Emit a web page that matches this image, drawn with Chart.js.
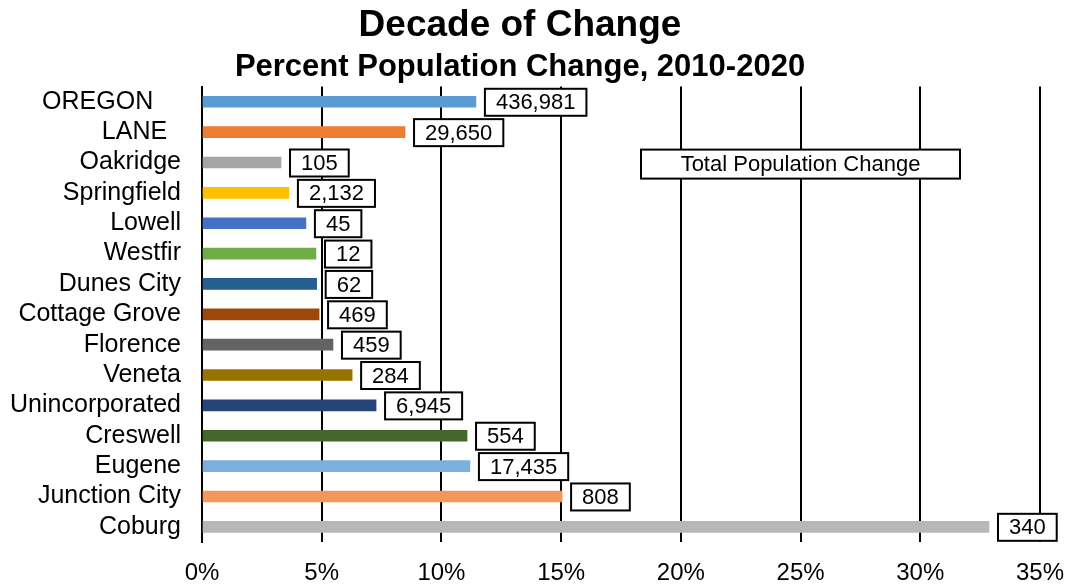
<!DOCTYPE html>
<html>
<head>
<meta charset="utf-8">
<title>Decade of Change</title>
<script src="https://cdn.jsdelivr.net/npm/chart.js@4.4.1/dist/chart.umd.min.js"></script>
<style>
    html, body { margin: 0; padding: 0; background: #fff; }
    #wrap { width: 1066px; height: 588px; }
</style>
</head>
<body>
<div id="wrap"><canvas id="chart"></canvas></div>
<script>
// Chart data
const categories = ['OREGON    ', 'LANE  ', 'Oakridge', 'Springfield', 'Lowell', 'Westfir', 'Dunes City',
    'Cottage Grove', 'Florence', 'Veneta', 'Unincorporated', 'Creswell', 'Eugene', 'Junction City', 'Coburg'];
const pctChange = [11.44, 8.48, 3.30, 3.63, 4.34, 4.76, 4.79, 4.89, 5.47, 6.27, 7.27, 11.07, 11.19, 15.04, 32.87];
const popChange = ['436,981', '29,650', '105', '2,132', '45', '12', '62', '469', '459', '284', '6,945', '554', '17,435', '808', '340'];
const barColors = ['#5B9BD5', '#ED7D31', '#A5A5A5', '#FFC000', '#4472C4', '#70AD47', '#255E91',
    '#9E480E', '#636363', '#997300', '#264478', '#43682B', '#7CAFDD', '#F1975A', '#B7B7B7'];
const xTicks = [0, 5, 10, 15, 20, 25, 30, 35];
const legendText = 'Total Population Change';

const FONT = "'Liberation Sans', Arial, sans-serif";

// Boxed value labels at the end of each bar
const valueBoxes = {
    id: 'valueBoxes',
    afterDatasetsDraw(chart) {
        const ctx = chart.ctx;
        const meta = chart.getDatasetMeta(0);
        ctx.save();
        ctx.font = '22px ' + FONT;
        ctx.textBaseline = 'middle';
        ctx.textAlign = 'left';
        meta.data.forEach((bar, i) => {
            const text = popChange[i];
            const w = ctx.measureText(text).width + 22;
            const h = 27;
            const x = bar.x + 9;
            const y = bar.y - h / 2 + 0.5;
            ctx.fillStyle = '#fff';
            ctx.fillRect(x, y, w, h);
            ctx.lineWidth = 2;
            ctx.strokeStyle = '#000';
            ctx.strokeRect(x, y, w, h);
            ctx.fillStyle = '#000';
            ctx.fillText(text, x + 11, y + h / 2 + 1);
        });
        ctx.restore();
    }
};

// Legend-like caption box
const captionBox = {
    id: 'captionBox',
    afterDatasetsDraw(chart) {
        const ctx = chart.ctx;
        const area = chart.chartArea;
        const x = area.left + 439;
        const y = area.top + 63;
        const w = 319;
        const h = 29;
        ctx.save();
        ctx.fillStyle = '#fff';
        ctx.fillRect(x, y, w, h);
        ctx.lineWidth = 2;
        ctx.strokeStyle = '#000';
        ctx.strokeRect(x, y, w, h);
        ctx.font = '22px ' + FONT;
        ctx.fillStyle = '#000';
        ctx.textAlign = 'center';
        ctx.textBaseline = 'middle';
        ctx.fillText(legendText, x + w / 2, y + h / 2 + 1);
        ctx.restore();
    }
};

const ctx = document.getElementById('chart').getContext('2d');
new Chart(ctx, {
    type: 'bar',
    data: {
        labels: categories,
        datasets: [{
            label: 'Percent Population Change',
            data: pctChange,
            backgroundColor: barColors,
            barThickness: 11,
            borderWidth: 0
        }]
    },
    options: {
        indexAxis: 'y',
        responsive: true,
        maintainAspectRatio: false,
        animation: false,
        layout: {
            padding: { left: 0, right: 26, top: 0, bottom: 0 }
        },
        plugins: {
            legend: { display: false },
            tooltip: { enabled: false },
            title: {
                display: true,
                text: 'Decade of Change',
                color: '#000',
                font: { family: FONT, size: 37, weight: 'bold', lineHeight: 1.2 },
                padding: { top: 4, bottom: 0 }
            },
            subtitle: {
                display: true,
                text: 'Percent Population Change, 2010-2020',
                color: '#000',
                font: { family: FONT, size: 31, weight: 'bold', lineHeight: 1.2 },
                padding: { top: 0, bottom: 1 }
            }
        },
        scales: {
            x: {
                min: 0,
                max: 35,
                afterBuildTicks(scale) {
                    scale.ticks = xTicks.map(v => ({ value: v }));
                },
                afterFit(scale) {
                    scale.height = 46;
                    scale.paddingLeft = 0;
                    scale.paddingRight = 0;
                },
                grid: {
                    color: '#000',
                    lineWidth: 2,
                    drawTicks: false
                },
                border: { display: false },
                ticks: {
                    color: '#000',
                    padding: 17,
                    maxRotation: 0,
                    font: { family: FONT, size: 24, lineHeight: 1.2 },
                    callback: v => v + '%'
                }
            },
            y: {
                afterFit(scale) {
                    scale.width = 202;
                },
                grid: { display: false, drawTicks: false },
                border: { display: true, color: '#000', width: 2 },
                ticks: {
                    color: '#000',
                    padding: 21,
                    autoSkip: false,
                    font: { family: FONT, size: 25 }
                }
            }
        }
    },
    plugins: [valueBoxes, captionBox]
});
</script>
</body>
</html>
